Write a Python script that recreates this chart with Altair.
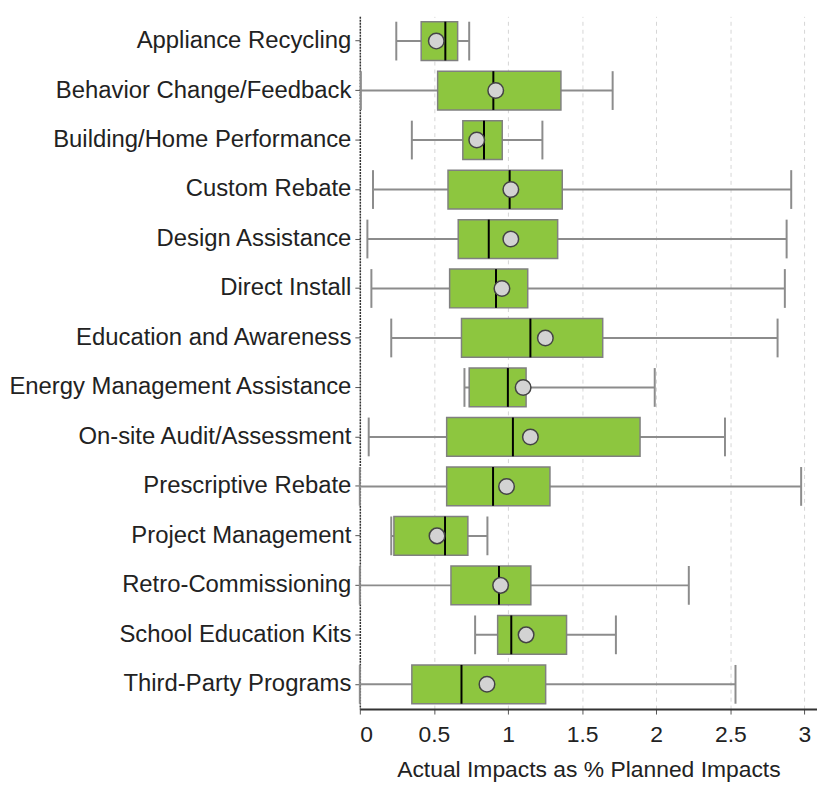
import altair as alt
import pandas as pd

categories = [
    "Appliance Recycling",
    "Behavior Change/Feedback",
    "Building/Home Performance",
    "Custom Rebate",
    "Design Assistance",
    "Direct Install",
    "Education and Awareness",
    "Energy Management Assistance",
    "On-site Audit/Assessment",
    "Prescriptive Rebate",
    "Project Management",
    "Retro-Commissioning",
    "School Education Kits",
    "Third-Party Programs",
]
whisker_low = [0.246, 0.007, 0.351, 0.089, 0.051, 0.078, 0.212, 0.706, 0.060, 0.0, 0.212, 0.0, 0.778, 0.0]
q1 = [0.414, 0.525, 0.695, 0.595, 0.664, 0.606, 0.686, 0.738, 0.586, 0.586, 0.230, 0.615, 0.930, 0.351]
median = [0.577, 0.901, 0.838, 1.011, 0.870, 0.919, 1.151, 0.999, 1.033, 0.899, 0.575, 0.939, 1.022, 0.686]
mean = [0.516, 0.917, 0.789, 1.019, 1.019, 0.959, 1.252, 1.102, 1.151, 0.990, 0.521, 0.950, 1.122, 0.858]
q3 = [0.660, 1.357, 0.961, 1.366, 1.335, 1.133, 1.639, 1.122, 1.891, 1.283, 0.729, 1.154, 1.395, 1.254]
whisker_high = [0.738, 1.706, 1.232, 2.911, 2.880, 2.868, 2.819, 1.990, 2.464, 2.978, 0.861, 2.220, 1.728, 2.535]
x_ticks = [0, 0.5, 1, 1.5, 2, 2.5, 3]

df = pd.DataFrame({
    "category": categories,
    "low": whisker_low,
    "q1": q1,
    "median": median,
    "mean": mean,
    "q3": q3,
    "high": whisker_high,
})

FONT = "Liberation Sans"
TXT = "#222222"
BOX_H = 39

xscale = alt.Scale(domain=[0, 3.085], nice=False, zero=False)
xaxis = alt.Axis(
    values=x_ticks, format=".1~f", grid=True, gridDash=[4, 4], gridColor="#d6d6d6",
    gridWidth=1, domainColor="#333333", domainWidth=2, tickColor="#555555",
    tickSize=5, labelFontSize=23, labelColor=TXT, labelFont=FONT, labelPadding=10,
    titleFontSize=23, titleFont=FONT, titleFontWeight="normal", titleColor=TXT,
    titlePadding=12,
)
XTITLE = "Actual Impacts as % Planned Impacts"


def xenc(field):
    return alt.X(f"{field}:Q", scale=xscale, axis=xaxis, title=XTITLE)


yenc = alt.Y(
    "category:N", sort=categories,
    scale=alt.Scale(paddingInner=0, paddingOuter=0),
    axis=alt.Axis(
        title=None, grid=False, labelFontSize=24, labelFont=FONT, labelColor=TXT,
        labelPadding=4, labelLimit=500, tickSize=5, tickColor="#555555",
        domainColor="#333333", domainWidth=1.5, domainDash=[2, 1],
    ),
)

base = alt.Chart(df)

whisker = base.mark_rule(color="#8c8c8c", strokeWidth=2).encode(
    x=xenc("low"), x2="high:Q", y=yenc
)
box = base.mark_bar(height=BOX_H, fill="#8DC63F", stroke="#808080", strokeWidth=1.5).encode(
    x=xenc("q1"), x2="q3:Q", y=yenc
)
cap_low = base.mark_tick(color="#8c8c8c", thickness=2, size=BOX_H, opacity=1).encode(
    x=xenc("low"), y=yenc
)
cap_high = base.mark_tick(color="#8c8c8c", thickness=2, size=BOX_H, opacity=1).encode(
    x=xenc("high"), y=yenc
)
med = base.mark_tick(color="black", thickness=2, size=BOX_H, opacity=1).encode(
    x=xenc("median"), y=yenc
)
mean_pt = base.mark_point(
    shape="circle", filled=True, fill="#d3d3d3", stroke="#444444",
    strokeWidth=1.5, size=245, opacity=1,
).encode(x=xenc("mean"), y=yenc)

chart = alt.layer(whisker, box, cap_low, cap_high, med, mean_pt).properties(
    width=460,
    height=697,
    autosize=alt.AutoSizeParams(type="none"),
    padding={"left": 354, "top": 6, "right": 0, "bottom": 76},
).configure_view(stroke=None)

chart.save("out.html", embed_options={"renderer": "svg", "actions": False})
